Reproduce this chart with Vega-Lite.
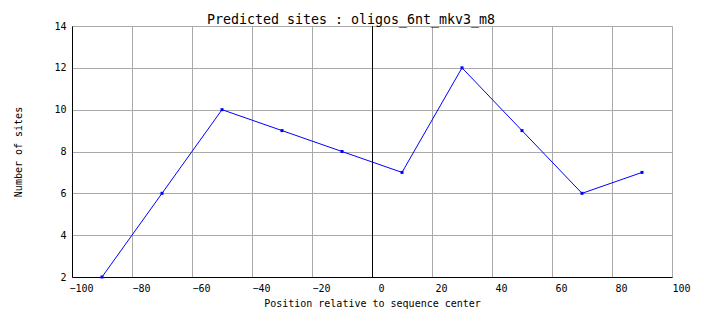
{
  "$schema": "https://vega.github.io/schema/vega-lite/v6.json",
  "width": 600,
  "height": 251,
  "autosize": {"type": "none"},
  "padding": {"left": 72, "top": 26, "right": 32, "bottom": 51},
  "background": "white",
  "config": {
    "view": {"stroke": null},
    "font": "DejaVu Sans Mono",
    "axis": {
      "labelFont": "DejaVu Sans Mono",
      "titleFont": "DejaVu Sans Mono",
      "labelFontSize": 10,
      "titleFontSize": 10,
      "labelColor": "black",
      "titleColor": "black",
      "titleFontWeight": "normal",
      "grid": true,
      "gridColor": "#aaaaaa",
      "gridOpacity": 1,
      "gridWidth": 1,
      "domainColor": "black",
      "domainWidth": 1,
      "ticks": false
    }
  },
  "title": {
    "text": "Predicted sites : oligos_6nt_mkv3_m8",
    "font": "DejaVu Sans Mono",
    "fontSize": 13.3,
    "fontWeight": "normal",
    "color": "black",
    "anchor": "middle",
    "frame": "group",
    "baseline": "alphabetic",
    "offset": 4,
    "dy": 20,
    "dx": -21
  },
  "data": {
    "values": [
      {"position": -90, "sites": 2},
      {"position": -70, "sites": 6},
      {"position": -50, "sites": 10},
      {"position": -30, "sites": 9},
      {"position": -10, "sites": 8},
      {"position": 10, "sites": 7},
      {"position": 30, "sites": 12},
      {"position": 50, "sites": 9},
      {"position": 70, "sites": 6},
      {"position": 90, "sites": 7}
    ]
  },
  "layer": [
    {
      "mark": {"type": "rule", "color": "black", "strokeWidth": 1, "xOffset": 0.5},
      "encoding": {"x": {"datum": 0, "type": "quantitative"}}
    },
    {
      "mark": {"type": "line", "color": "#0000ff", "strokeWidth": 1, "point": {"shape": "square", "size": 9, "filled": true, "color": "#0000ff"}},
      "encoding": {
        "x": {
          "field": "position",
          "type": "quantitative",
          "scale": {"domain": [-100, 100], "nice": false, "zero": false},
          "axis": {
            "title": "Position relative to sequence center",
            "grid": true,
            "values": [-100, -80, -60, -40, -20, 0, 20, 40, 60, 80, 100],
            "labelPadding": 6,
            "labelOffset": 9,
            "labelFlush": false,
            "labelOverlap": false,
            "titlePadding": 5
          }
        },
        "y": {
          "field": "sites",
          "type": "quantitative",
          "scale": {"domain": [2, 14], "nice": false, "zero": false},
          "axis": {
            "title": "Number of sites",
            "grid": true,
            "values": [2, 4, 6, 8, 10, 12, 14],
            "labelPadding": 6,
            "labelFlush": false,
            "labelOverlap": false,
            "titlePadding": 30
          }
        }
      }
    }
  ]
}
